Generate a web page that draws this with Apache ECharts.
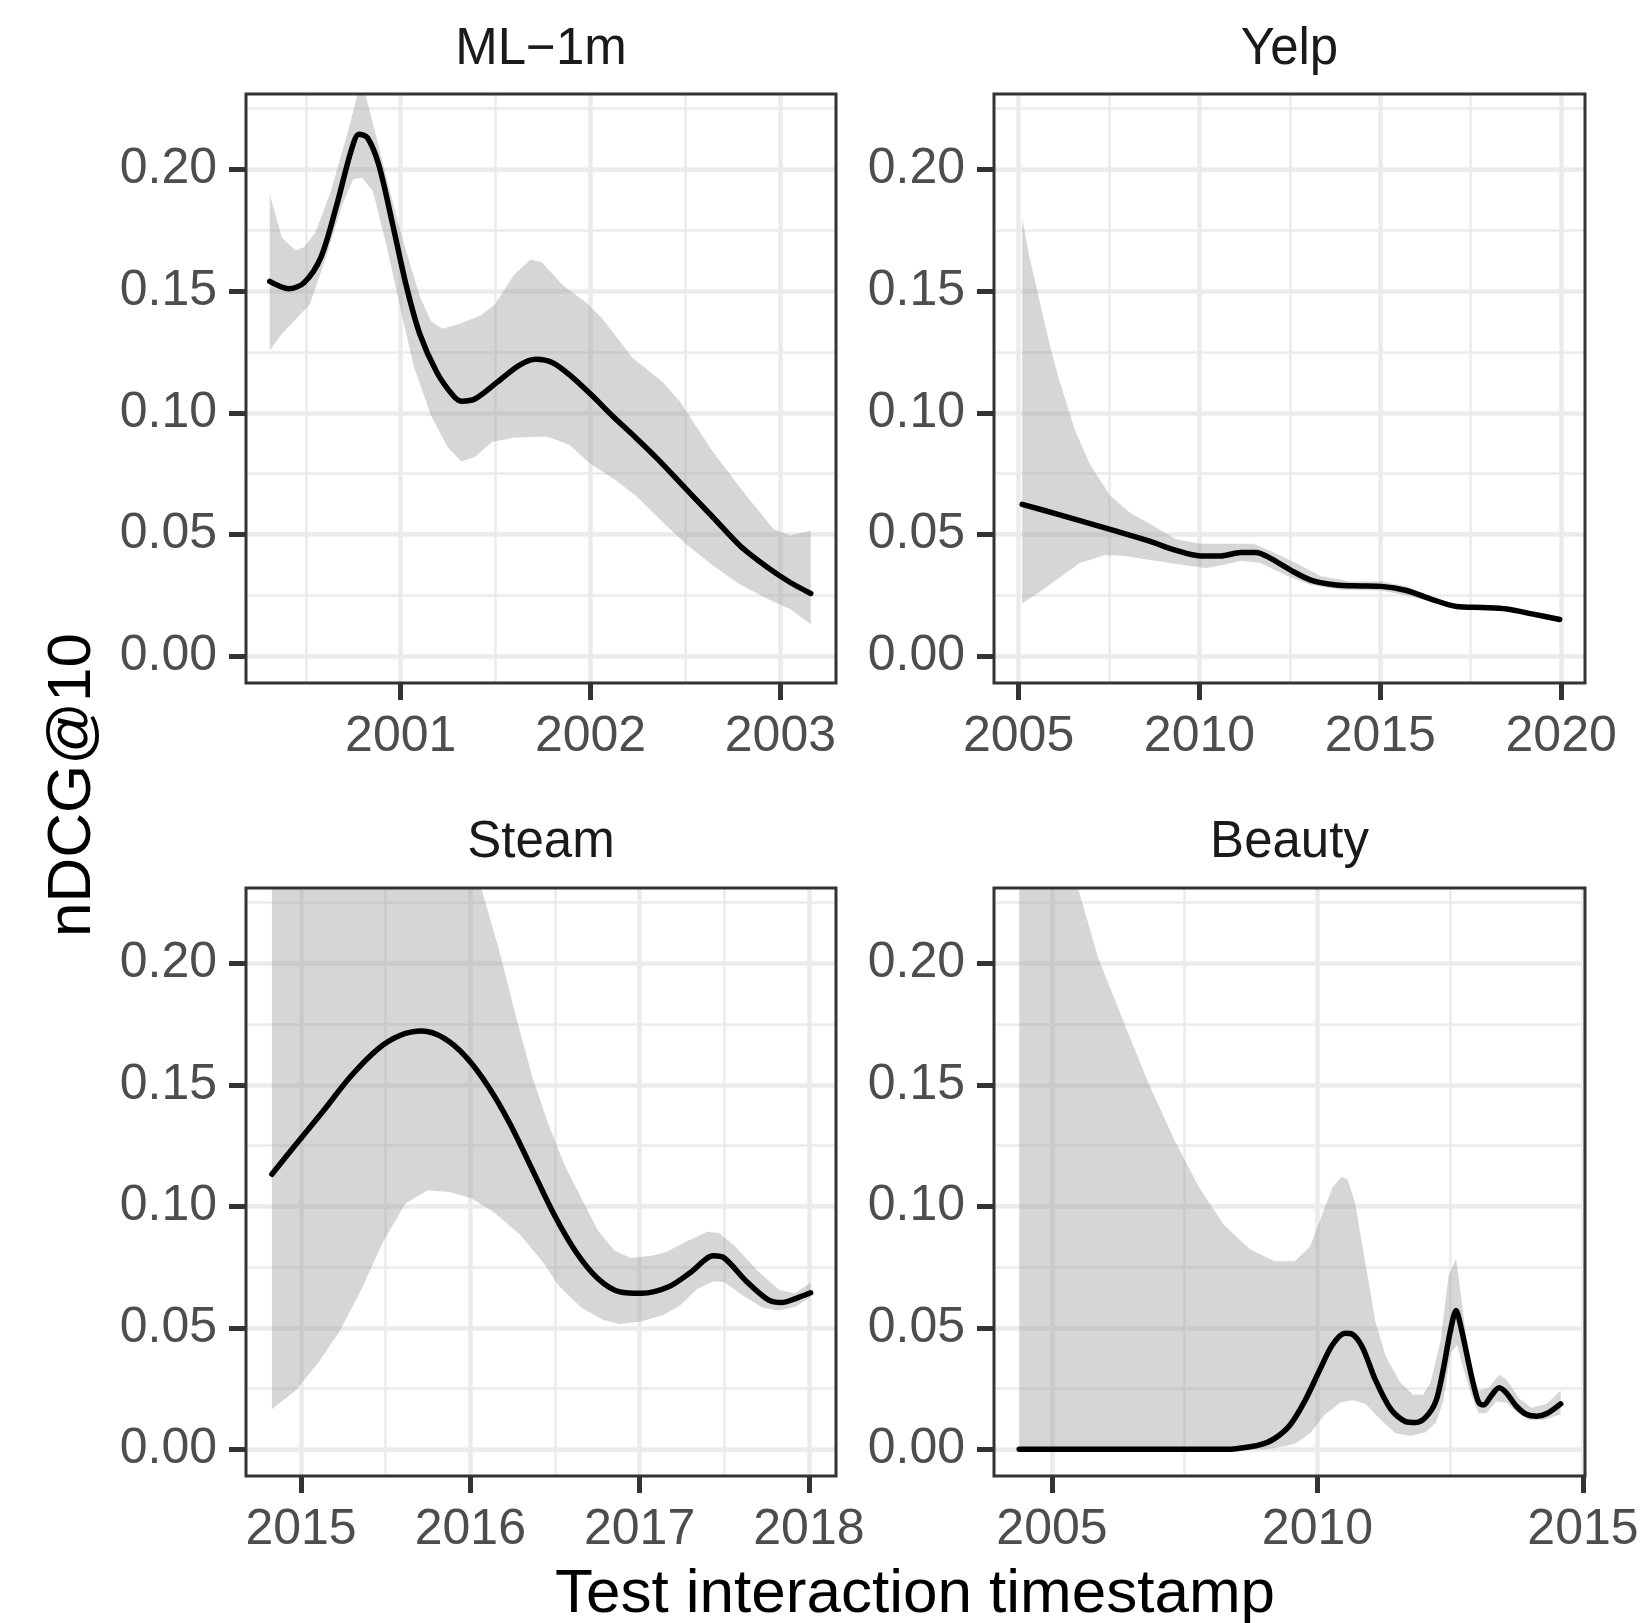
<!DOCTYPE html>
<html>
<head>
<meta charset="utf-8">
<title>nDCG@10 by test interaction timestamp</title>
<script src="https://cdn.jsdelivr.net/npm/echarts@6/dist/echarts.min.js"></script>
<style>
  html, body { margin: 0; padding: 0; background: #fff; }
  #chart { width: 1645px; height: 1623px; }
</style>
</head>
<body>
<div id="chart"></div>
<script>
// ---- data: [year, nDCG@10] ----
var yTicks = [0, 0.05, 0.1, 0.15, 0.2];
var yMinor = [0.025, 0.075, 0.125, 0.175, 0.225];

var ml1mTicks = [2001, 2002, 2003];
var ml1mMinor = [2000.5, 2001.5, 2002.5];
var ml1mFit = [[2000.31,0.154],[2000.41,0.151],[2000.49,0.1534],[2000.58,0.164],[2000.665,0.186],[2000.74,0.208],[2000.78,0.2145],[2000.825,0.213],[2000.884,0.202],[2000.956,0.178],[2001.03,0.152],[2001.10,0.1325],[2001.19,0.1167],[2001.277,0.107],[2001.32,0.1048],[2001.393,0.1058],[2001.51,0.1127],[2001.626,0.1196],[2001.713,0.122],[2001.80,0.1206],[2001.888,0.1157],[2002.0,0.1077],[2002.12,0.0984],[2002.237,0.0899],[2002.354,0.081],[2002.5,0.069],[2002.645,0.0571],[2002.79,0.0452],[2002.936,0.0363],[2003.05,0.0304],[2003.16,0.0258]];
var ml1mUpper = [[2000.31,0.1897],[2000.374,0.172],[2000.447,0.1667],[2000.49,0.168],[2000.55,0.174],[2000.636,0.192],[2000.723,0.216],[2000.78,0.233],[2000.81,0.232],[2000.87,0.214],[2000.94,0.192],[2001.015,0.170],[2001.10,0.148],[2001.16,0.1375],[2001.22,0.1345],[2001.306,0.1365],[2001.42,0.140],[2001.495,0.1444],[2001.6,0.157],[2001.684,0.163],[2001.742,0.162],[2001.86,0.152],[2001.975,0.1454],[2002.06,0.139],[2002.22,0.1226],[2002.38,0.1127],[2002.47,0.1048],[2002.645,0.0839],[2002.82,0.066],[2002.965,0.0522],[2003.05,0.0496],[2003.16,0.0516]];
var ml1mLower = [[2000.31,0.1256],[2000.374,0.1325],[2000.447,0.1385],[2000.52,0.1444],[2000.607,0.164],[2000.694,0.186],[2000.75,0.196],[2000.796,0.1966],[2000.854,0.191],[2000.927,0.168],[2001.0,0.1425],[2001.07,0.1187],[2001.16,0.0988],[2001.247,0.0859],[2001.32,0.080],[2001.393,0.082],[2001.48,0.088],[2001.6,0.0899],[2001.77,0.0903],[2001.888,0.0869],[2002.0,0.079],[2002.12,0.073],[2002.237,0.066],[2002.354,0.0571],[2002.5,0.0462],[2002.645,0.0373],[2002.79,0.0294],[2002.936,0.0234],[2003.05,0.0194],[2003.16,0.0131]];

var yelpTicks = [2005, 2010, 2015, 2020];
var yelpMinor = [2007.5, 2012.5, 2017.5];
var yelpFit = [[2005.1,0.0624],[2006.14,0.0581],[2007.53,0.0521],[2008.64,0.0472],[2009.33,0.0436],[2010.03,0.0412],[2010.58,0.0412],[2011.14,0.0426],[2011.56,0.0426],[2011.97,0.0402],[2012.53,0.0353],[2013.08,0.0313],[2013.78,0.0293],[2014.47,0.0289],[2015.03,0.0287],[2015.72,0.027],[2016.42,0.0234],[2017.11,0.0204],[2017.81,0.020],[2018.5,0.0194],[2019.19,0.0174],[2019.96,0.0151]];
var yelpUpper = [[2005.1,0.180],[2005.3,0.164],[2005.58,0.146],[2005.86,0.128],[2006.14,0.1126],[2006.56,0.0928],[2006.97,0.0789],[2007.53,0.066],[2008.08,0.059],[2008.78,0.0531],[2009.33,0.0482],[2010.03,0.0462],[2010.86,0.0462],[2011.49,0.0462],[2011.97,0.0432],[2012.67,0.0383],[2013.36,0.0329],[2014.19,0.0307],[2015.03,0.0307],[2015.72,0.0287],[2016.42,0.0244],[2017.11,0.0213],[2017.81,0.0208],[2018.5,0.0202],[2019.19,0.0183],[2019.96,0.0162]];
var yelpLower = [[2005.1,0.0218],[2005.58,0.0264],[2006.14,0.0323],[2006.69,0.0383],[2007.39,0.0416],[2007.94,0.0412],[2008.78,0.0392],[2009.47,0.0377],[2010.17,0.0363],[2010.58,0.0373],[2011.14,0.0392],[2011.69,0.0383],[2012.39,0.0333],[2013.08,0.0293],[2013.92,0.0273],[2015.03,0.027],[2015.72,0.025],[2016.42,0.0224],[2017.11,0.0195],[2017.81,0.0192],[2018.5,0.0186],[2019.19,0.0165],[2019.96,0.014]];

var steamTicks = [2015, 2016, 2017, 2018];
var steamMinor = [2015.5, 2016.5, 2017.5];
var steamFit = [[2014.828,0.1132],[2014.968,0.1253],[2015.13,0.1391],[2015.29,0.1532],[2015.455,0.1648],[2015.584,0.1703],[2015.714,0.1721],[2015.844,0.1692],[2015.974,0.1615],[2016.104,0.1495],[2016.234,0.134],[2016.364,0.1154],[2016.494,0.0967],[2016.623,0.0813],[2016.753,0.0703],[2016.883,0.0648],[2017.013,0.0642],[2017.175,0.067],[2017.305,0.073],[2017.435,0.0796],[2017.5,0.0787],[2017.63,0.0692],[2017.76,0.0615],[2017.84,0.0604],[2017.92,0.062],[2018.01,0.0644]];
var steamUpper = [[2014.828,0.24],[2016.03,0.239],[2016.07,0.2297],[2016.17,0.2055],[2016.27,0.178],[2016.364,0.1538],[2016.46,0.134],[2016.56,0.1165],[2016.656,0.1033],[2016.753,0.0901],[2016.85,0.0818],[2016.948,0.0787],[2017.08,0.0798],[2017.16,0.0813],[2017.27,0.0853],[2017.4,0.0895],[2017.47,0.089],[2017.565,0.0835],[2017.695,0.0736],[2017.825,0.0655],[2017.92,0.0642],[2018.01,0.0686]];
var steamLower = [[2014.828,0.0165],[2014.968,0.0242],[2015.097,0.0352],[2015.227,0.0484],[2015.357,0.0659],[2015.487,0.0857],[2015.617,0.1011],[2015.747,0.1066],[2015.877,0.1059],[2016.006,0.1033],[2016.136,0.0978],[2016.3,0.0879],[2016.43,0.0769],[2016.526,0.067],[2016.656,0.0582],[2016.786,0.0532],[2016.883,0.0516],[2017.013,0.0527],[2017.143,0.0554],[2017.24,0.0593],[2017.338,0.0659],[2017.435,0.0692],[2017.5,0.0688],[2017.6,0.0637],[2017.727,0.0582],[2017.825,0.0571],[2017.92,0.0587],[2018.01,0.0626]];

var beautyTicks = [2005, 2010, 2015];
var beautyMinor = [2007.5, 2012.5];
var beautyFit = [[2004.383,0],[2006.5,0],[2008.34,0],[2008.53,0.0004],[2008.91,0.0018],[2009.19,0.0044],[2009.48,0.0099],[2009.76,0.0198],[2010.05,0.033],[2010.28,0.0429],[2010.52,0.0477],[2010.66,0.0473],[2010.85,0.0418],[2011.09,0.0286],[2011.38,0.0165],[2011.66,0.0114],[2011.85,0.011],[2012.04,0.0132],[2012.23,0.0198],[2012.37,0.033],[2012.5,0.0484],[2012.61,0.0571],[2012.70,0.0505],[2012.85,0.0352],[2012.94,0.0264],[2013.04,0.0191],[2013.13,0.0182],[2013.27,0.022],[2013.42,0.0253],[2013.56,0.0231],[2013.75,0.0176],[2013.94,0.0143],[2014.13,0.0136],[2014.32,0.0147],[2014.58,0.0187]];
var beautyUpper = [[2004.383,0.32],[2004.9,0.275],[2005.2,0.25],[2005.49,0.231],[2005.87,0.2022],[2006.35,0.1758],[2006.82,0.1505],[2007.3,0.1275],[2007.77,0.1077],[2008.24,0.0923],[2008.72,0.0824],[2009.19,0.0774],[2009.57,0.0774],[2009.86,0.0835],[2010.05,0.0945],[2010.28,0.1077],[2010.45,0.1121],[2010.57,0.111],[2010.71,0.1011],[2010.9,0.0769],[2011.09,0.0527],[2011.28,0.0385],[2011.56,0.0275],[2011.8,0.0224],[2011.99,0.0224],[2012.13,0.0275],[2012.32,0.045],[2012.47,0.0714],[2012.61,0.0785],[2012.7,0.0637],[2012.8,0.0462],[2012.91,0.0308],[2013.04,0.0242],[2013.23,0.0253],[2013.42,0.0308],[2013.56,0.0286],[2013.8,0.0209],[2014.03,0.0171],[2014.32,0.0187],[2014.58,0.0242]];
var beautyLower = [[2004.383,0],[2009.0,0],[2009.19,0.0004],[2009.57,0.0022],[2009.86,0.0066],[2010.14,0.0143],[2010.43,0.0193],[2010.66,0.0202],[2010.9,0.0187],[2011.19,0.0121],[2011.47,0.0066],[2011.76,0.0055],[2012.04,0.007],[2012.23,0.011],[2012.37,0.0198],[2012.51,0.0396],[2012.63,0.0429],[2012.75,0.033],[2012.9,0.022],[2013.04,0.0147],[2013.18,0.0149],[2013.37,0.0198],[2013.56,0.0191],[2013.75,0.0154],[2013.98,0.0121],[2014.27,0.0121],[2014.58,0.0143]];

// ---- layout (pixels) ----
var FONT = '"Liberation Sans", Arial, Helvetica, sans-serif';
var GRID_COLOR = '#EBEBEB';
var INK = '#333333';
var Y_RANGE = [-0.011, 0.231];

var panels = [
  { name: 'ML\u22121m', box: [246, 94, 590, 589], xRange: [2000.185, 2003.293], ticks: ml1mTicks, minor: ml1mMinor, fit: ml1mFit, upper: ml1mUpper, lower: ml1mLower },
  { name: 'Yelp', box: [994, 94, 591, 589], xRange: [2004.32, 2020.66], ticks: yelpTicks, minor: yelpMinor, fit: yelpFit, upper: yelpUpper, lower: yelpLower },
  { name: 'Steam', box: [246, 888, 590, 588], xRange: [2014.675, 2018.16], ticks: steamTicks, minor: steamMinor, fit: steamFit, upper: steamUpper, lower: steamLower },
  { name: 'Beauty', box: [994, 888, 591, 588], xRange: [2003.908, 2015.038], ticks: beautyTicks, minor: beautyMinor, fit: beautyFit, upper: beautyUpper, lower: beautyLower }
];

var grids = [], xAxes = [], yAxes = [], series = [], titles = [];

panels.forEach(function (p, i) {
  grids.push({
    left: p.box[0], top: p.box[1], width: p.box[2], height: p.box[3],
    show: true, z: 10, backgroundColor: 'transparent',
    borderColor: INK, borderWidth: 3
  });

  // minor grid lines only
  xAxes.push({
    type: 'value', gridIndex: i, min: p.xRange[0], max: p.xRange[1], position: 'bottom',
    axisLine: { show: false, onZero: false },
    axisTick: { show: false, customValues: p.minor },
    axisLabel: { show: false, customValues: p.minor },
    splitLine: { show: true, lineStyle: { color: GRID_COLOR, width: 2.5 } }
  });
  yAxes.push({
    type: 'value', gridIndex: i, min: Y_RANGE[0], max: Y_RANGE[1], position: 'left',
    axisLine: { show: false, onZero: false },
    axisTick: { show: false, customValues: yMinor },
    axisLabel: { show: false, customValues: yMinor },
    splitLine: { show: true, lineStyle: { color: GRID_COLOR, width: 2.5 } }
  });

  // major ticks, labels, grid lines
  xAxes.push({
    type: 'value', gridIndex: i, min: p.xRange[0], max: p.xRange[1], position: 'bottom',
    axisLine: { show: false, onZero: false },
    axisTick: { show: true, length: 17, customValues: p.ticks, lineStyle: { color: INK, width: 5 } },
    axisLabel: {
      customValues: p.ticks, margin: 29, color: '#4D4D4D', fontSize: 50, fontFamily: FONT,
      formatter: function (v) { return String(v); }
    },
    splitLine: { show: true, lineStyle: { color: GRID_COLOR, width: 4.5 } }
  });
  yAxes.push({
    type: 'value', gridIndex: i, min: Y_RANGE[0], max: Y_RANGE[1], position: 'left',
    axisLine: { show: false, onZero: false },
    axisTick: { show: true, length: 17, customValues: yTicks, lineStyle: { color: INK, width: 5 } },
    axisLabel: {
      customValues: yTicks, margin: 29, color: '#4D4D4D', fontSize: 50, fontFamily: FONT,
      formatter: function (v) { return v.toFixed(2); }
    },
    splitLine: { show: true, lineStyle: { color: GRID_COLOR, width: 4.5 } }
  });

  // confidence band
  series.push({
    type: 'custom', xAxisIndex: 2 * i + 1, yAxisIndex: 2 * i + 1,
    silent: true, z: 2,
    data: [p.fit[0]],
    renderItem: function (params, api) {
      if (params.dataIndex !== 0) return;
      var pts = p.upper.map(function (d) { return api.coord(d); })
        .concat(p.lower.slice().reverse().map(function (d) { return api.coord(d); }));
      var cs = params.coordSys;
      return {
        type: 'group',
        clipPath: { type: 'rect', shape: { x: cs.x, y: cs.y, width: cs.width, height: cs.height } },
        children: [{
          type: 'polygon',
          shape: { points: pts },
          style: { fill: 'rgba(153,153,153,0.4)' }
        }]
      };
    }
  });

  // smooth fit
  series.push({
    type: 'line', xAxisIndex: 2 * i + 1, yAxisIndex: 2 * i + 1,
    data: p.fit, showSymbol: false, smooth: 0.3,
    lineStyle: { color: '#000', width: 5.5, join: 'round', cap: 'round' }, silent: true, z: 3
  });

  titles.push({
    text: p.name, left: p.box[0] + p.box[2] / 2, top: i < 2 ? 50 : 843,
    textAlign: 'center', textVerticalAlign: 'middle', padding: 0,
    textStyle: { fontSize: 51, fontWeight: 'normal', color: '#1A1A1A', fontFamily: FONT }
  });
});

var chart = echarts.init(document.getElementById('chart'), null, { renderer: 'canvas' });
chart.setOption({
  backgroundColor: '#ffffff',
  animation: false,
  title: titles,
  grid: grids,
  xAxis: xAxes,
  yAxis: yAxes,
  series: series,
  graphic: [
    {
      type: 'text', x: 73, y: 785, rotation: Math.PI / 2,
      style: { text: 'nDCG@10', fontSize: 62, fontFamily: FONT, fill: '#000', align: 'center', verticalAlign: 'middle' }
    },
    {
      type: 'text', x: 915, y: 1595,
      style: { text: 'Test interaction timestamp', fontSize: 62, fontFamily: FONT, fill: '#000', align: 'center', verticalAlign: 'middle' }
    }
  ]
});
</script>
</body>
</html>
